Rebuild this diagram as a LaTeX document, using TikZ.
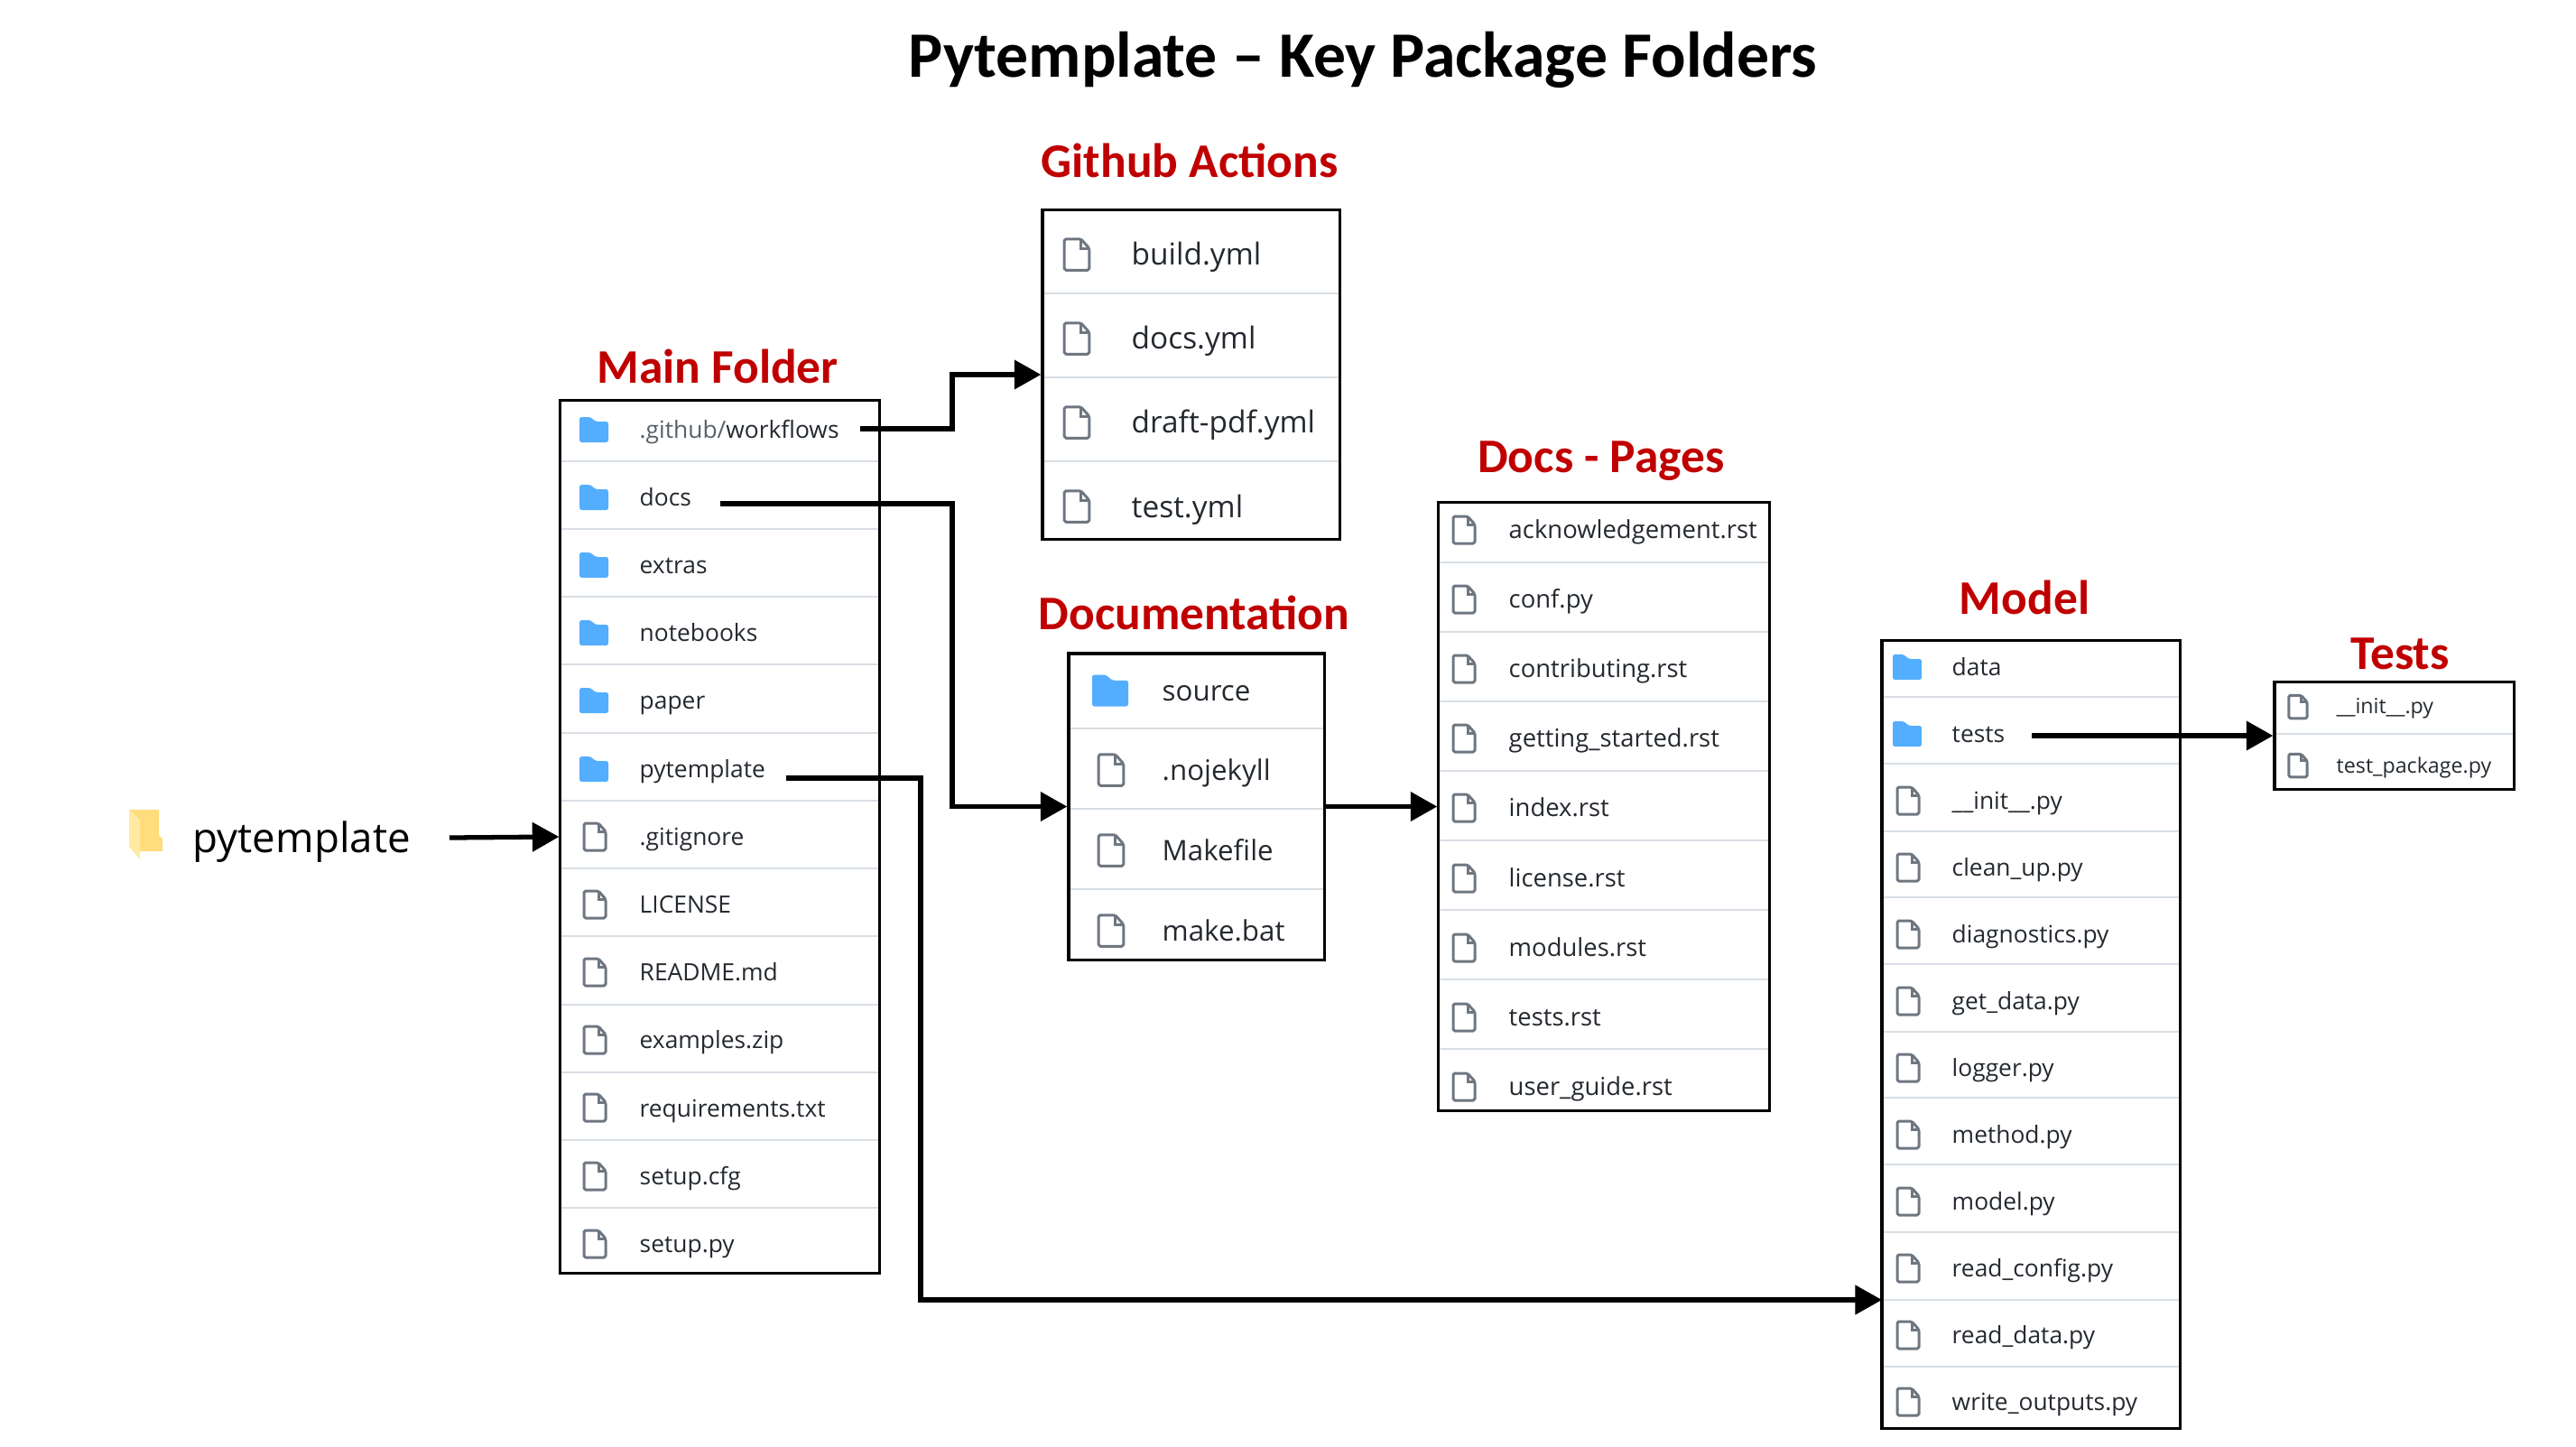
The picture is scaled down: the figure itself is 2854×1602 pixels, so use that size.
\documentclass[tikz,border=0pt]{standalone}
\usepackage{fontspec}
\setmainfont{Open Sans}
\newfontfamily\calibrifont{Carlito}
\usetikzlibrary{arrows.meta}
\definecolor{headred}{HTML}{C00000}
\definecolor{rowtext}{HTML}{24292F}
\definecolor{rowgrey}{HTML}{57606A}
\definecolor{rowsep}{HTML}{D8DEE4}
\definecolor{iconblue}{HTML}{54AEFF}
\definecolor{icongrey}{HTML}{6E7781}
\definecolor{folderbody}{HTML}{FFDC7C}
\definecolor{folderflap}{HTML}{FFE9A3}
\tikzset{
    x=0.01cm,y=-0.01cm,
    pagetitle/.style={font=\calibrifont\bfseries\fontsize{20.4}{24}\selectfont,inner sep=0pt},
    heading/.style={font=\calibrifont\bfseries\fontsize{15.2}{18}\selectfont,text=headred,inner sep=0pt},
    rowname/.style={anchor=west,inner sep=0pt,text=rowtext,text height=.75em,text depth=.05em},
    rowmain/.style={rowname,text depth=.15em,font=\fontsize{7.5}{9}\selectfont},
    rowdoc/.style={rowname,text depth=.15em,font=\fontsize{7.8}{9}\selectfont},
    rowbig/.style={rowname,font=\fontsize{8.9}{11}\selectfont},
    rowgh/.style={rowname,font=\fontsize{9.5}{11}\selectfont},
    rowtest/.style={rowname,text depth=.25em,font=\fontsize{6.6}{8}\selectfont},
    rowline/.style={draw=rowsep,line width=0.6pt},
    listbox/.style={draw=black,line width=0.9pt,inner sep=0pt,minimum width=#1},
    conn/.style={draw=black,line width=1.5pt,-{Triangle[length=8.4pt,width=9pt]}},
    pics/foldericon/.style={code={
        \fill[iconblue,rounded corners=0.7pt] (-16,14) -- (-16,-14) -- (-4,-14) -- (2,-9) -- (16,-9) -- (16,14) -- cycle;
    }},
    pics/fileicon/.style={code={
        \draw[icongrey,line width=0.85pt,rounded corners=0.5pt,line join=round] (-12,-15) -- (4,-15) -- (12,-6) -- (12,15) -- (-12,15) -- cycle;
        \draw[icongrey,line width=0.85pt] (4,-15) -- (4,-6) -- (12,-6);
    }},
}
\begin{document}
\begin{tikzpicture}
    \useasboundingbox (0,0) rectangle (2854,1602);
    \node[pagetitle] (title) at (1510,66) {Pytemplate – Key Package Folders};

    % start folder
    \fill[folderbody] (143,897) -- (176,897) -- (176,925) -- (180,929) -- (180,943) -- (155,943) -- cycle;
    \fill[folderflap] (143,897) -- (155,908) -- (155,952) -- (143,938) -- cycle;
    \node[rowname,text=black,font=\fontsize{13}{16}\selectfont] (root) at (213,932) {pytemplate};

    % main folder
    \node[heading] (mainhead) at (795,406) {Main Folder};
    \foreach \y in {511,586,661,736,812,887,962,1037,1113,1188,1263,1338}
        \draw[rowline] (620,\y) -- (974,\y);
    \pic at (658,476) {foldericon};
    \node[rowmain] (workflows) at (708,475) {\textcolor{rowgrey}{.github/}workflows};
    \pic at (658,551) {foldericon};
    \node[rowmain] (maindocs) at (708,550) {docs};
    \pic at (658,626) {foldericon};
    \node[rowmain] (extras) at (708,625) {extras};
    \pic at (658,701) {foldericon};
    \node[rowmain] (notebooks) at (708,700) {notebooks};
    \pic at (658,776) {foldericon};
    \node[rowmain] (paper) at (708,775) {paper};
    \pic at (658,852) {foldericon};
    \node[rowmain] (mainpkg) at (708,851) {pytemplate};
    \pic at (659,927) {fileicon};
    \node[rowmain] (gitignore) at (708,926) {.gitignore};
    \pic at (659,1002) {fileicon};
    \node[rowmain] (license) at (708,1001) {LICENSE};
    \pic at (659,1077) {fileicon};
    \node[rowmain] (readme) at (708,1076) {README.md};
    \pic at (659,1152) {fileicon};
    \node[rowmain] (examples) at (708,1151) {examples.zip};
    \pic at (659,1227) {fileicon};
    \node[rowmain] (requirements) at (708,1227) {requirements.txt};
    \pic at (659,1303) {fileicon};
    \node[rowmain] (setupcfg) at (708,1302) {setup.cfg};
    \pic at (659,1378) {fileicon};
    \node[rowmain] (setuppy) at (708,1377) {setup.py};
    \node[listbox=3.53cm,minimum height=9.67cm] (mainbox) at (797.5,927) {};

    % github actions
    \node[heading] (ghhead) at (1318,178) {Github Actions};
    \foreach \y in {325,418,511}
        \draw[rowline] (1155,\y) -- (1484,\y);
    \pic[scale=1.15] at (1193,282) {fileicon};
    \node[rowgh] (buildyml) at (1253,281) {build.yml};
    \pic[scale=1.15] at (1193,375) {fileicon};
    \node[rowgh] (docsyml) at (1253,374) {docs.yml};
    \pic[scale=1.15] at (1193,468) {fileicon};
    \node[rowgh] (draftyml) at (1253,467) {draft-pdf.yml};
    \pic[scale=1.15] at (1193,561) {fileicon};
    \node[rowgh] (testyml) at (1253,561) {test.yml};
    \node[listbox=3.29cm,minimum height=3.65cm] (ghbox) at (1319.5,415) {};

    % documentation
    \node[heading] (dochead) at (1323,679) {Documentation};
    \foreach \y in {807,896,985}
        \draw[rowline] (1183,\y) -- (1467,\y);
    \pic[scale=1.25] at (1230,765) {foldericon};
    \node[rowbig] (source) at (1287,764) {source};
    \pic[scale=1.15] at (1231,853) {fileicon};
    \node[rowbig] (nojekyll) at (1287,852) {.nojekyll};
    \pic[scale=1.15] at (1231,942) {fileicon};
    \node[rowbig] (makefile) at (1287,941) {Makefile};
    \pic[scale=1.15] at (1231,1031) {fileicon};
    \node[rowbig] (makebat) at (1287,1030) {make.bat};
    \node[listbox=2.83cm,minimum height=3.39cm] (docbox) at (1325.5,893.5) {};

    % docs pages
    \node[heading] (pageshead) at (1774,511) {Docs - Pages};
    \foreach \y in {623,700,777,854,931,1008,1085,1162}
        \draw[rowline] (1592,\y) -- (1960,\y);
    \pic at (1622,587) {fileicon};
    \node[rowdoc] (ackn) at (1671,586) {acknowledgement.rst};
    \pic at (1622,664) {fileicon};
    \node[rowdoc] (conf) at (1671,663) {conf.py};
    \pic at (1622,741) {fileicon};
    \node[rowdoc] (contrib) at (1671,740) {contributing.rst};
    \pic at (1622,818) {fileicon};
    \node[rowdoc] (started) at (1671,817) {getting\_started.rst};
    \pic at (1622,895) {fileicon};
    \node[rowdoc] (index) at (1671,894) {index.rst};
    \pic at (1622,973) {fileicon};
    \node[rowdoc] (licrst) at (1671,972) {license.rst};
    \pic at (1622,1050) {fileicon};
    \node[rowdoc] (modules) at (1671,1049) {modules.rst};
    \pic at (1622,1127) {fileicon};
    \node[rowdoc] (testsrst) at (1671,1126) {tests.rst};
    \pic at (1622,1204) {fileicon};
    \node[rowdoc] (guide) at (1671,1203) {user\_guide.rst};
    \node[listbox=3.66cm,minimum height=6.73cm] (pagesbox) at (1777,893.5) {};

    % model
    \node[heading] (modelhead) at (2243,662) {Model};
    \foreach \y in {772,846,921,994,1068,1143,1216,1290,1365,1440,1514}
        \draw[rowline] (2085,\y) -- (2415,\y);
    \pic at (2113,739) {foldericon};
    \node[rowmain] (data) at (2162,738) {data};
    \pic at (2113,813) {foldericon};
    \node[rowmain] (modeltests) at (2162,812) {tests};
    \pic at (2114,887) {fileicon};
    \node[rowmain] (modelinit) at (2162,886) {\_\_init\_\_.py};
    \pic at (2114,961) {fileicon};
    \node[rowmain] (cleanup) at (2162,960) {clean\_up.py};
    \pic at (2114,1035) {fileicon};
    \node[rowmain] (diagnostics) at (2162,1034) {diagnostics.py};
    \pic at (2114,1109) {fileicon};
    \node[rowmain] (getdata) at (2162,1108) {get\_data.py};
    \pic at (2114,1183) {fileicon};
    \node[rowmain] (logger) at (2162,1182) {logger.py};
    \pic at (2114,1257) {fileicon};
    \node[rowmain] (method) at (2162,1256) {method.py};
    \pic at (2114,1331) {fileicon};
    \node[rowmain] (modelpy) at (2162,1330) {model.py};
    \pic at (2114,1405) {fileicon};
    \node[rowmain] (readconfig) at (2162,1404) {read\_config.py};
    \pic at (2114,1479) {fileicon};
    \node[rowmain] (readdata) at (2162,1478) {read\_data.py};
    \pic at (2114,1553) {fileicon};
    \node[rowmain] (writeout) at (2162,1552) {write\_outputs.py};
    \node[listbox=3.30cm,minimum height=8.72cm] (modelbox) at (2250,1146) {};

    % tests
    \node[heading] (testshead) at (2659,724) {Tests};
    \draw[rowline] (2520,813) -- (2785,813);
    \pic[scale=0.85] at (2546,783) {fileicon};
    \node[rowtest] (testsinit) at (2588,782) {\_\_init\_\_.py};
    \pic[scale=0.85] at (2546,848) {fileicon};
    \node[rowtest] (testpackage) at (2588,848) {test\_package.py};
    \node[listbox=2.65cm,minimum height=1.19cm] (testsbox) at (2652.5,815) {};

    % connectors
    \coordinate (rootout) at (498,928);
    \coordinate (flowsout) at (953,475);
    \coordinate (docsout) at (798,558);
    \coordinate (pkgout) at (871,862);
    \coordinate (testsout) at (2251,815);
    \coordinate (modelin) at (2085,1440);
    \draw[conn] (rootout) -- (mainbox.west);
    \draw[conn] (flowsout) -- (1055,475) -- (1055,415) -- (ghbox.west);
    \draw[conn] (docsout) -- (1055,558) -- (1055,893.5) -- (docbox.west);
    \draw[conn] (pkgout) -- (1020,862) -- (1020,1440) -- (modelin);
    \draw[conn] (docbox.east) -- (pagesbox.west);
    \draw[conn] (testsout) -- (testsbox.west);
\end{tikzpicture}
\end{document}
